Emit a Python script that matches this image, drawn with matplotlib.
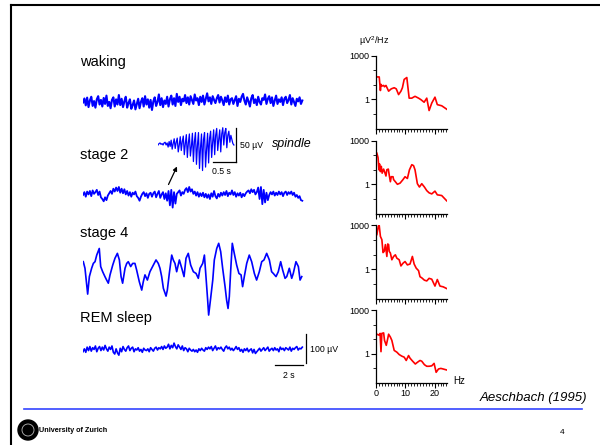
import numpy as np
import matplotlib
matplotlib.use('Agg')
import matplotlib.pyplot as plt
from matplotlib.ticker import NullFormatter
from matplotlib.patches import Circle

plt.rcParams['font.family'] = ['Liberation Sans', 'DejaVu Sans']
plt.rcParams['mathtext.fontset'] = 'custom'
plt.rcParams['mathtext.rm'] = 'Liberation Sans'

# EEG traces, microvolts, evenly sampled over 15.5 s
trace_seconds = 15.5

waking_uv = [
    0, 14, -10, 17, -16, 7, 20, -12, 5, -18, 11, 22, -7, 9, -14, 16, -5, 24, -12, 2,
    -20, 9, 18, -14, 11, -7, 26, -9, 13, -16, 4, 20, -18, -2, 11, -22, -9, 7, -24, -5,
    13, -20, 2, 15, -14, 22, -7, 11, -18, 9, -26, 4, 18, -12, 2, 28, -9, 15, -16, 7,
    -5, 20, -14, 11, 24, -7, 15, -12, 30, 2, 20, -9, 13, 4, 26, -2, 18, -7, 22, 9,
    -5, 28, 7, 15, -9, 20, 2, 24, -7, 13, 32, 4, 18, -5, 22, 9, -2, 15, 26, 0,
    20, 7, -9, 18, 2, 24, -7, 11, 15, -5, 9, 22, -12, 13, 2, 20, 30, 7, -7, 18,
    4, -14, 15, 26, -2, 11, -9, 20, 2, -7, 15, 9, 28, -5, 13, 22, -2, 18, -12, 7,
    24, -5, 11, 2, 18, -9, 13, 20, -2, 9, 26, -7, 15, 2, -12, 13, 4, 18, -5, 7]

stage2_uv = [
    0, 10, -6, 12, 2, 14, -4, 16, 4, 10,
    18, 0, 12, -8, -14, -22, -8, -18, -2, 6,
    14, 4, 22, 12, 26, 14, 28, 8, 22, 6,
    20, 2, 14, -2, 10, -6, 8, 2, 12, -4,
    -10, -20, -6, 4, 10, -4, 6, -10, 4, 8,
    -6, 6, 12, -8, 4, 14, -10, 2, 10, -14,
    6, -20, 14, -36, 18, -44, 10, -30, 4, 10,
    16, -2, 10, 4, 18, 24, 10, 28, 12, 20,
    4, 12, -2, 10, -6, 6, -4, 8, -8, 4,
    -10, 2, -14, 6, -6, 14, -4, -12, 4, -6,
    8, -2, 10, 0, 14, -4, 8, 2, 16, 0,
    10, -6, 6, -2, 8, -8, 4, -4, 6, 12,
    16, 6, 20, 10, 18, 2, 10, 26, -14, 28,
    -32, 18, -26, 8, -18, 0, 10, 2, 12, -2,
    8, 0, 12, 2, 10, -4, 8, 12, 0, 10,
    4, 12, 0, 8, -6, 0, -10, -4, -18, -20]

stage4_t = [
    0.02, 0.14, 0.33, 0.45, 0.61, 0.73, 0.85, 0.97, 1.15, 1.25, 1.39, 1.55, 1.67, 1.79,
    1.91, 2.10, 2.26, 2.43, 2.57, 2.69, 2.80, 2.97, 3.09, 3.20, 3.37, 3.51, 3.67, 3.79,
    3.98, 4.15, 4.26, 4.38, 4.55, 4.73, 4.97, 5.16, 5.32, 5.44, 5.56, 5.68, 5.87, 5.96,
    6.10, 6.27, 6.38, 6.50, 6.62, 6.81, 6.98, 7.14, 7.28, 7.44, 7.61, 7.80, 7.99, 8.15,
    8.27, 8.46, 8.58, 8.69, 8.81, 8.88, 9.02, 9.17, 9.28, 9.45, 9.59, 9.73, 9.87, 10.04,
    10.15, 10.25, 10.34, 10.44, 10.55, 10.69, 10.86, 11.02, 11.17, 11.28, 11.40, 11.57,
    11.75, 11.92, 12.11, 12.27, 12.46, 12.63, 12.79, 12.98, 13.17, 13.33, 13.45, 13.64,
    13.80, 13.97, 14.11, 14.28, 14.40, 14.58, 14.75, 14.86, 15.05, 15.22, 15.34, 15.46]
stage4_uv = [
    29, 6, -84, -23, 6, 23, 29, 52, 75, 12, -6, -23, -35, -46,
    -17, 17, 41, 58, 35, -23, -46, 6, 23, 29, 12, 23, 23, 0,
    -41, -70, -41, -17, -35, -6, 17, 35, 23, 6, -23, -64, -91, -70,
    -12, 52, 35, 23, -6, 35, 6, -23, 41, 58, 17, -6, -12, -29,
    6, 23, 52, -23, -105, -157, -99, -35, 35, 75, 93, 64, 6, -58,
    -105, -134, -93, 0, 93, 58, 17, -12, -17, -58, -23, 23,
    52, 29, -12, -35, -6, 29, 35, 58, 35, -6, -12, -23,
    -6, 29, 0, -29, -23, 6, -29, -12, 29, 12, -35, -23]

rem_uv = [
    -6, 4, -8, 10, -2, 12, -4, 8, 2, 14, -6, 6, 12, -2, 10, 0, 16, 4, -4, 10,
    2, 14, -8, -14, 4, -10, -18, 6, -6, 12, 2, -4, 8, 14, -2, 6, 10, -6, 4, 0,
    8, -4, 2, -8, 6, 0, -2, 4, -6, 8, 2, -4, 6, 10, 0, 8, 4, 12, 2, 14,
    6, 10, 20, 4, 16, 8, 24, 12, 4, 18, 10, 2, 14, -2, 8, 4, -6, 6, 0, -4,
    2, -6, 0, -8, 4, -2, 6, 0, -4, 8, 2, 10, 4, 12, -2, 6, 14, 0, 8, 4,
    10, 2, -4, 8, 14, 4, 10, 0, 6, -2, 4, 12, 2, 8, -4, 2, -8, 4, -2, 6,
    -6, 0, 4, -10, 2, -12, -6, 0, 6, -4, 2, 8, -2, 4, 10, -4, 2, 6, -2, 8,
    0, 4, -6, 10, 2, 6, -2, 8, 4, 0, 10, -4, 6, 2, 8, 12, 0, 6, 4, 10]

# spindle detail, 1.65 s
spindle_seconds = 1.65
spindle_uv = [
    0, 2, 3, 1, 2, 0, 3, 4, 0, 3,
    -3, 5, -2, 7, -6, 2, 9, -5, 4, 10,
    -10, 0, 12, -8, 5, 13, -14, 2, 15, -18,
    3, 16, -16, -2, 17, -24, 5, 18, -28, 0,
    18, -34, -4, 16, -37, 8, 18, -32, -6, 17,
    -26, 10, 20, -18, 4, 22, -14, 14, 24, -8,
    8, 22, -10, 16, 25, 0, 18, 24, -4, 14,
    20, 4, 14, 8, 2, 0]

# power spectra (uV^2/Hz)
waking_f = [0.3, 1.1, 1.5, 1.7, 2.0, 2.6, 2.9, 3.4, 4.3, 5.2, 6.2, 6.9, 7.7, 8.5, 9.0,
            9.6, 10.5, 11.3, 12.2, 13.3, 14.5, 15.3, 16.4, 17.3, 18.1, 19.0, 20.1,
            20.9, 22.4, 24.1]
waking_p = [34, 34, 4.0, 10.5, 8.1, 8.9, 7.2, 8.9, 3.6, 5.2, 6.2, 5.2, 2.1, 3.6, 6.2,
            23, 31, 1.2, 1.2, 1.6, 1.2, 0.95, 0.63, 1.2, 0.17, 0.55, 1.4,
            0.43, 0.36, 0.21]

stage2_f = [0.3, 0.7, 1.0, 1.2, 1.5, 1.8, 2.1, 2.6, 2.9, 3.4, 3.7, 4.2, 4.5, 4.9, 5.2,
            5.8, 6.0, 6.6, 7.3, 8.2, 9.2, 9.9, 10.7, 11.4, 12.2, 12.8, 13.3, 14.1,
            14.8, 15.6, 16.5, 17.3, 18.1, 19.0, 20.1, 20.9, 22.4, 24.1]
stage2_p = [135, 66, 9.8, 25, 7.4, 17, 5.8, 11, 7.4, 3.7, 10, 11, 4.4, 1.5, 3.3,
            3.3, 2.1, 1.5, 1.0, 1.2, 2.1, 3.3, 2.5, 9.8, 22, 19, 9.8, 1.1,
            0.65, 1.1, 0.65, 0.37, 0.26, 0.22, 0.34, 0.19, 0.17, 0.074]

stage4_f = [0.3, 0.8, 1.1, 1.5, 2.0, 2.4, 2.8, 3.2, 3.7, 4.0, 4.3, 4.5, 4.9, 5.4, 6.0,
            6.6, 7.1, 7.9, 8.5, 9.2, 9.9, 10.7, 11.6, 12.4, 13.0, 13.7, 14.5, 15.0,
            15.6, 16.5, 17.3, 18.1, 19.0, 20.1, 20.9, 21.8, 22.9, 24.1]
stage4_p = [240, 910, 1000, 180, 107, 14, 17, 49, 7.6, 54, 49, 17, 13, 4.5, 7.6,
            9.8, 5.8, 4.5, 1.7, 2.6, 3.4, 2.0, 2.3, 7.6, 2.3, 1.2, 0.81, 0.31,
            0.26, 0.18, 0.16, 0.24, 0.21, 0.071, 0.2, 0.071, 0.063, 0.048]

rem_f = [0.3, 1.0, 1.4, 1.7, 2.0, 2.6, 2.9, 3.5, 4.0, 4.3, 4.9, 5.4, 6.2, 7.1, 7.9,
         8.8, 9.6, 10.3, 11.1, 11.6, 12.5, 13.4, 14.1, 15.0, 15.6, 16.5, 17.3, 18.1,
         19.0, 19.8, 20.5, 21.3, 22.1, 22.9, 24.1]
rem_p = [22, 19, 25, 1.4, 25, 27, 8.3, 3.8, 11, 22, 14, 8.3, 1.7, 1.3, 0.89,
         0.69, 0.59, 0.35, 0.76, 0.5, 0.31, 0.2, 0.26, 0.35, 0.31, 0.18, 0.14, 0.14,
         0.15, 0.22, 0.054, 0.091, 0.1, 0.091, 0.078]

W, H = 600, 445
fig = plt.figure(figsize=(W / 100, H / 100), dpi=100)


def px_axes(left, top, width, height):
    return fig.add_axes([left / W, 1 - (top + height) / H, width / W, height / H])


# background layer in pixel coordinates
bg = px_axes(0, 0, W, H)
bg.set_xlim(0, W)
bg.set_ylim(H, 0)
bg.axis('off')

bg.plot([11, 11], [5, H], color='black', lw=1.5)
bg.plot([11, W], [5, 5], color='black', lw=1.5)
bg.plot([24, 582], [408.5, 408.5], color='#3344ff', lw=1.2)

bg.add_patch(Circle((28, 430), 10, color='black'))
bg.add_patch(Circle((28, 430), 6, fill=False, ec='#bbbbbb', lw=0.6))
bg.text(39, 430.5, 'University of Zurich', fontsize=5.2, fontweight='bold',
        ha='left', va='center', color='black')
bg.text(562, 432, '4', fontsize=6, ha='center', va='center')
bg.text(587, 398, 'Aeschbach (1995)', fontsize=9.5, style='italic', ha='right', va='center')

for label, y in [('waking', 62), ('stage 2', 155), ('stage 4', 233.5), ('REM sleep', 318)]:
    bg.text(80.5, y, label, fontsize=10.5, ha='left', va='center')

bg.text(271.5, 144, 'spindle', fontsize=9, style='italic', ha='left', va='center')
bg.text(240, 145, '50 µV', fontsize=6.3, ha='left', va='center')
bg.text(212.5, 171, '0.5 s', fontsize=6.3, ha='left', va='center')
bg.text(310, 350, '100 µV', fontsize=6.3, ha='left', va='center')
bg.text(289, 376, '2 s', fontsize=6.3, ha='center', va='center')
bg.text(359, 41, r'µV$^{2}$/Hz', fontsize=6.5, ha='left', va='center')
bg.text(453, 381, 'Hz', fontsize=7, ha='left', va='center')
bg.annotate('', xy=(177, 166.5), xytext=(168.5, 184.5),
            arrowprops=dict(arrowstyle='-|>', color='black', lw=0.9,
                            mutation_scale=6, shrinkA=0, shrinkB=0))

# EEG traces
PX_PER_S = 14.15
PX_PER_UV = 0.287
TRACE_BLUE = '#0000ff'


def trace_axes(center_y, px_per_s, px_per_uv, left=83, width=260, height=140):
    ax = px_axes(left, center_y - height / 2, width, height)
    ax.set_xlim(0, width / px_per_s)
    half = height / 2 / px_per_uv
    ax.set_ylim(-half, half)
    ax.axis('off')
    ax.patch.set_alpha(0)
    return ax


for vals, cy, lw in [(waking_uv, 102.5, 1.5), (stage2_uv, 195, 1.3), (rem_uv, 350, 1.2)]:
    ax = trace_axes(cy, PX_PER_S, PX_PER_UV)
    t = np.linspace(0, trace_seconds, len(vals))
    ax.plot(t, vals, color=TRACE_BLUE, lw=lw)
    if vals is rem_uv:
        # 100 uV / 2 s calibration
        ax.plot([15.76, 15.76], [-44, 56], color='black', lw=0.9)
        ax.plot([13.57, 15.57], [-52, -52], color='black', lw=0.9)

ax4 = trace_axes(270, PX_PER_S, PX_PER_UV)
ax4.plot(stage4_t, stage4_uv, color=TRACE_BLUE, lw=1.2)

# spindle inset, own scale
axs = trace_axes(145, 46, 0.69, left=158, width=100, height=100)
ts = np.linspace(0, spindle_seconds, len(spindle_uv))
axs.plot(ts, spindle_uv, color=TRACE_BLUE, lw=0.9)
axs.plot([1.70, 1.70], [-25, 25], color='black', lw=0.9)
axs.plot([1.20, 1.70], [-25, -25], color='black', lw=0.9)

# spectra
spectra = [(waking_f, waking_p), (stage2_f, stage2_p), (stage4_f, stage4_p), (rem_f, rem_p)]
tops = [55.5, 140.5, 225.5, 310]
for i, ((f, p), top) in enumerate(zip(spectra, tops)):
    ax = px_axes(376, top, 71, 73)
    ax.plot(f, p, color='#ff0000', lw=1.2)
    ax.set_yscale('log')
    ax.set_ylim(0.01, 1000)
    ax.set_xlim(0, 24.2)
    ax.set_yticks([1, 1000])
    ax.set_yticklabels(['1', '1000'])
    ax.set_yticks([0.1, 10, 100], minor=True)
    ax.yaxis.set_minor_formatter(NullFormatter())
    ax.set_xticks([0, 10, 20])
    ax.set_xticks(np.arange(0, 25), minor=True)
    if i == 3:
        ax.set_xticklabels(['0', '10', '20'])
    else:
        ax.set_xticklabels([])
    ax.spines['top'].set_visible(False)
    ax.spines['right'].set_visible(False)
    for s in ['left', 'bottom']:
        ax.spines[s].set_linewidth(0.9)
    ax.tick_params(which='major', length=3.5, width=0.8, labelsize=6.5, pad=1)
    ax.tick_params(which='minor', length=2, width=0.6)
    ax.patch.set_alpha(0)

fig.savefig('out.png', dpi=100)
